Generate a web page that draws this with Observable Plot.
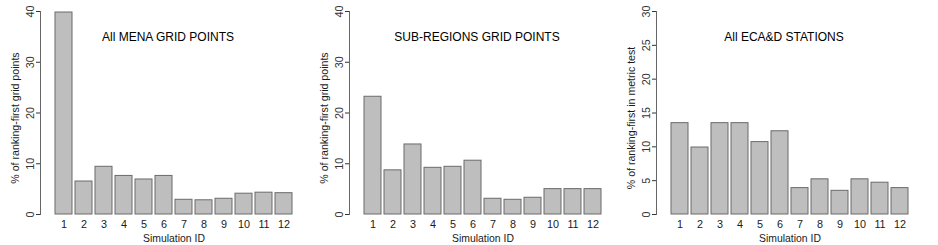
<!DOCTYPE html>
<html><head><meta charset="utf-8">
<script src="https://cdn.jsdelivr.net/npm/d3@7"></script>
<script src="https://cdn.jsdelivr.net/npm/@observablehq/plot@0.6"></script>
<style>
html,body{margin:0;padding:0;background:#fff;}
#chart{position:relative;width:938px;height:245px;overflow:hidden;background:#fff;}
#chart svg{position:absolute;top:0;}
</style></head><body><div id="chart"></div>
<script>
const simulationIds = ["1","2","3","4","5","6","7","8","9","10","11","12"];
const menaValues = [39.8, 6.5, 9.4, 7.6, 6.9, 7.6, 2.9, 2.8, 3.1, 4.1, 4.3, 4.2];
const subRegionValues = [23.2, 8.7, 13.8, 9.2, 9.4, 10.6, 3.1, 2.9, 3.3, 5.0, 5.0, 5.0];
const ecadValues = [13.5, 9.9, 13.5, 13.5, 10.7, 12.3, 3.9, 5.2, 3.5, 5.2, 4.7, 3.9];
const panelTitles = ["All MENA GRID POINTS", "SUB-REGIONS GRID POINTS", "All ECA&D STATIONS"];
const yTitles = ["% of ranking-first grid points", "% of ranking-first grid points", "% of ranking-first in metric test"];
const yMaxes = [40, 40, 30];
const yTicksGrid = [0, 10, 20, 30, 40];
const yTicksStations = [0, 5, 10, 15, 20, 25, 30];
const xTitle = "Simulation ID";

const font = "'Liberation Sans', Arial, Helvetica, sans-serif";

function panel(values, title, yTitle, ymax, ticks, left) {
  const data = simulationIds.map((id, i) => ({id, value: values[i]}));
  const svg = Plot.plot({
    width: 312, height: 245,
    marginLeft: 40, marginRight: 5, marginTop: 11, marginBottom: 31,
    style: {fontFamily: font, fontSize: "10.8px", background: "white", color: "#1a1a1a", overflow: "visible"},
    x: {domain: simulationIds, paddingInner: 1/6, paddingOuter: 0.473, align: 0.5, label: null},
    y: {domain: [0, ymax], label: null},
    marks: [
      Plot.barY(data, {x: "id", y: "value", fill: "#bebebe", stroke: "#6b6b6b", strokeWidth: 1}),
      Plot.frame({anchor: "left", stroke: "#666"}),
      Plot.axisY({ticks, tickSize: 4, tickRotate: -90, tickPadding: 3, label: null, color: "#333", fontSize: 10.8}),
      Plot.axisX({tickSize: 0, tickPadding: 6, label: null, color: "#1a1a1a", fontSize: 10.8}),
      Plot.text([title], {text: d => d, frameAnchor: "top", textAnchor: "middle", dx: -6, dy: 26, lineAnchor: "middle", fontSize: 12, fill: "#000"}),
      Plot.text([yTitle], {text: d => d, frameAnchor: "left", textAnchor: "middle", rotate: -90, dx: -25, dy: 5, lineAnchor: "middle", fontSize: 10.6, fill: "#1a1a1a"}),
      Plot.text([xTitle], {text: d => d, frameAnchor: "bottom", textAnchor: "middle", dy: 24.3, lineAnchor: "middle", fontSize: 10.4, fill: "#1a1a1a"})
    ]
  });
  svg.style.left = left + "px";
  document.getElementById("chart").appendChild(svg);
}

panel(menaValues, panelTitles[0], yTitles[0], yMaxes[0], yTicksGrid, 0);
panel(subRegionValues, panelTitles[1], yTitles[1], yMaxes[1], yTicksGrid, 309);
panel(ecadValues, panelTitles[2], yTitles[2], yMaxes[2], yTicksStations, 616);
</script></body></html>
